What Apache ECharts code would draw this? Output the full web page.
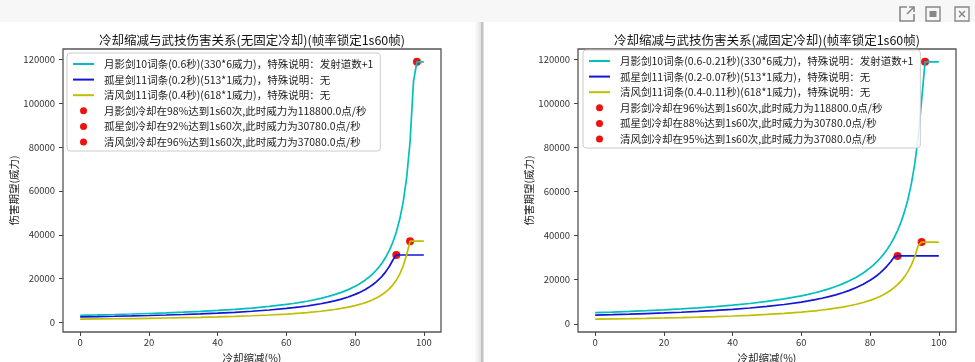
<!DOCTYPE html>
<html>
<head>
<meta charset="utf-8">
<script src="https://cdn.jsdelivr.net/npm/echarts@6/dist/echarts.min.js"></script>
<style>
html,body{margin:0;padding:0;background:#fff;}
#c{width:975px;height:362px;}
</style>
</head>
<body>
<div id="c"></div>
<script>
// ---- data ----
const xPct = [0,5,10,15,20,25,30,35,40,45,50,55,60,62,64,66,68,70,72,74,76,78,80,81,82,83,84,85,86,87,88,89,90,91,92,93,94,95,96,97,98,99,100];

const moonLeft = [3300,3474,3667,3882,4125,4400,4714,5077,5500,6000,6600,7333,8250,8684,9167,9706,10313,11000,11786,12692,13750,15000,16500,17368,18333,19412,20625,22000,23571,25385,27500,30000,33000,36667,41250,47143,55000,66000,82500,110000,118800,118800,118800];
const loneLeft = [2565,2700,2850,3018,3206,3420,3664,3946,4275,4664,5130,5700,6413,6750,7125,7544,8016,8550,9161,9865,10688,11659,12825,13500,14250,15088,16031,17100,18321,19731,21375,23318,25650,28500,30780,30780,30780,30780,30780,30780,30780,30780,30780];
const windLeft = [1545,1626,1717,1818,1931,2060,2207,2377,2575,2809,3090,3433,3863,4066,4292,4544,4828,5150,5518,5942,6438,7023,7725,8132,8583,9088,9656,10300,11036,11885,12875,14045,15450,17167,19313,22071,25750,30900,37080,37080,37080,37080,37080];

const moonRight = [5077,5344,5641,5973,6346,6769,7253,7811,8462,9231,10154,11282,12692,13360,14103,14932,15865,16923,18132,19527,21154,23077,25385,26721,28205,29864,31731,33846,36264,39053,42308,46154,50769,56410,63462,72527,84615,101538,118800,118800,118800,118800,118800];
const loneRight = [3946,4154,4385,4643,4933,5262,5637,6071,6577,7175,7892,8769,9865,10385,10962,11606,12332,13154,14093,15178,16442,17937,19731,20769,21923,23213,24663,26308,28187,30355,30780,30780,30780,30780,30780,30780,30780,30780,30780,30780,30780,30780,30780];
const windRight = [2131,2243,2368,2507,2664,2841,3044,3278,3552,3875,4262,4736,5328,5608,5920,6268,6660,7103,7611,8196,8879,9686,10655,11216,11839,12536,13319,14207,15222,16393,17759,19373,21310,23678,26638,30443,35517,37080,37080,37080,37080,37080,37080];

const capXLeft = [98, 92, 96];
const capXRight = [96, 88, 95];
const capY = [118800, 30780, 37080];

const lineNamesLeft = [
  '月影剑10词条(0.6秒)(330*6威力)，特殊说明：发射道数+1',
  '孤星剑11词条(0.2秒)(513*1威力)，特殊说明：无',
  '清风剑11词条(0.4秒)(618*1威力)，特殊说明：无'
];
const dotNamesLeft = [
  '月影剑冷却在98%达到1s60次,此时威力为118800.0点/秒',
  '孤星剑冷却在92%达到1s60次,此时威力为30780.0点/秒',
  '清风剑冷却在96%达到1s60次,此时威力为37080.0点/秒'
];
const lineNamesRight = [
  '月影剑10词条(0.6-0.21秒)(330*6威力)，特殊说明：发射道数+1',
  '孤星剑11词条(0.2-0.07秒)(513*1威力)，特殊说明：无',
  '清风剑11词条(0.4-0.11秒)(618*1威力)，特殊说明：无'
];
const dotNamesRight = [
  '月影剑冷却在96%达到1s60次,此时威力为118800.0点/秒',
  '孤星剑冷却在88%达到1s60次,此时威力为30780.0点/秒',
  '清风剑冷却在95%达到1s60次,此时威力为37080.0点/秒'
];
const titles = ['冷却缩减与武技伤害关系(无固定冷却)(帧率锁定1s60帧)', '冷却缩减与武技伤害关系(减固定冷却)(帧率锁定1s60帧)'];
const xTicks = [0, 20, 40, 60, 80, 100];
const yTicks = [0, 20000, 40000, 60000, 80000, 100000, 120000];
const xAxisName = '冷却缩减(%)';
const yAxisName = '伤害期望(威力)';

// ---- styling ----
const lineColors = ['#00bfbf', '#1515d8', '#bfbf00'];
const FONT = '"Noto Sans CJK SC", "Noto Sans", sans-serif';
const grids = [
  {left: 63, top: 49, width: 378, height: 283},
  {left: 578, top: 49, width: 378, height: 283}
];
const yExt = [[-4318, 124663], [-3702, 124633]];

const pairs = (xs, ys) => xs.map((x, i) => [x, ys[i]]);

const series = [];
const sets = [
  {lines: [moonLeft, loneLeft, windLeft], names: lineNamesLeft, dots: dotNamesLeft, capX: capXLeft},
  {lines: [moonRight, loneRight, windRight], names: lineNamesRight, dots: dotNamesRight, capX: capXRight}
];
sets.forEach((s, gi) => {
  s.lines.forEach((ys, k) => {
    series.push({
      type: 'line', name: s.names[k], xAxisIndex: gi, yAxisIndex: gi,
      data: pairs(xPct, ys), showSymbol: false, symbol: 'none', smooth: false,
      lineStyle: {color: lineColors[k], width: 1.7}, itemStyle: {color: lineColors[k]},
      z: 3, animation: false
    });
  });
  s.dots.forEach((nm, k) => {
    series.push({
      type: 'scatter', name: nm, xAxisIndex: gi, yAxisIndex: gi,
      data: [[s.capX[k], capY[k]]], symbol: 'circle', symbolSize: 8,
      itemStyle: {color: '#ee1111', opacity: 1}, z: 2, animation: false
    });
  });
});

const tickStyle = {show: true, inside: false, length: 4, lineStyle: {color: '#444', width: 1}};

const option = {
  animation: false,
  backgroundColor: '#ffffff',
  grid: grids.map(g => Object.assign({show: true, borderColor: '#555', borderWidth: 1.3, backgroundColor: 'transparent', containLabel: false, outerBoundsMode: 'none'}, g)),
  xAxis: grids.map((g, i) => ({
    type: 'value', gridIndex: i, min: -5, max: 105,
    axisLine: {show: false, onZero: false},
    splitLine: {show: false},
    axisTick: Object.assign({}, tickStyle, {customValues: xTicks}),
    axisLabel: {customValues: xTicks, margin: 6, fontSize: 9.5, color: '#333', fontFamily: FONT, formatter: v => String(v)},
    name: xAxisName, nameLocation: 'middle', nameGap: 19,
    nameTextStyle: {fontSize: 10.5, color: '#222', fontFamily: FONT}
  })),
  yAxis: grids.map((g, i) => ({
    type: 'value', gridIndex: i, min: yExt[i][0], max: yExt[i][1],
    axisLine: {show: false, onZero: false},
    splitLine: {show: false},
    axisTick: Object.assign({}, tickStyle, {customValues: yTicks}),
    axisLabel: {customValues: yTicks, margin: 8, fontSize: 9.5, color: '#333', fontFamily: FONT, formatter: v => String(v)},
    name: yAxisName, nameLocation: 'middle', nameGap: 44,
    nameTextStyle: {fontSize: 10.5, color: '#222', fontFamily: FONT}
  })),
  legend: sets.map((s, gi) => ({
    orient: 'vertical', left: gi === 0 ? 67 : 583, top: gi === 0 ? 53 : 50,
    itemWidth: 21, itemHeight: 7, itemGap: 3.6,
    padding: [5, 7, 3, 5],
    borderColor: '#cccccc', borderWidth: 1, borderRadius: 3,
    backgroundColor: 'rgba(255,255,255,0.85)',
    selectedMode: false,
    textStyle: {fontSize: 10.5, lineHeight: 12, color: '#222', fontFamily: FONT, padding: [0, 0, 0, 5]},
    data: s.names.map(n => ({name: n, itemStyle: {color: 'rgba(0,0,0,0)', opacity: 0, borderWidth: 0}}))
      .concat(s.dots.map(n => ({name: n, icon: 'circle'})))
  })),
  graphic: [
    {type: 'rect', shape: {x: 0, y: 0, width: 975, height: 22}, style: {fill: '#f7f7f7'}, silent: true, z: -10},
    {type: 'rect', shape: {x: 474, y: 22, width: 7, height: 340},
      style: {fill: new echarts.graphic.LinearGradient(0, 0, 1, 0, [{offset: 0, color: 'rgba(230,230,230,0)'}, {offset: 1, color: 'rgba(225,225,225,1)'}])}, silent: true, z: -10},
    {type: 'rect', shape: {x: 481, y: 22, width: 2.5, height: 340}, style: {fill: '#c2c2c2'}, silent: true, z: -9},
    {type: 'text', x: 252, y: 40, style: {text: titles[0], align: 'center', verticalAlign: 'middle', font: '12.5px ' + FONT, fill: '#111'}, z: 10},
    {type: 'text', x: 767, y: 40, style: {text: titles[1], align: 'center', verticalAlign: 'middle', font: '12.5px ' + FONT, fill: '#111'}, z: 10},
    {type: 'group', x: 900, y: 7, children: [
      {type: 'polyline', shape: {points: [[7, 0], [0, 0], [0, 14], [14, 14], [14, 7]]}, style: {stroke: '#888', lineWidth: 1.6, fill: null}},
      {type: 'line', shape: {x1: 7, y1: 7, x2: 14, y2: 0}, style: {stroke: '#888', lineWidth: 1.6}},
      {type: 'polyline', shape: {points: [[9, 0], [14, 0], [14, 5]]}, style: {stroke: '#888', lineWidth: 1.6, fill: null}}
    ]},
    {type: 'group', x: 926, y: 7, children: [
      {type: 'rect', shape: {x: 0, y: 0, width: 14, height: 14}, style: {stroke: '#888', lineWidth: 1.4, fill: null}},
      {type: 'rect', shape: {x: 3.5, y: 4, width: 7, height: 6}, style: {fill: '#888'}}
    ]},
    {type: 'group', x: 955, y: 7, children: [
      {type: 'rect', shape: {x: 0, y: 0, width: 14, height: 14}, style: {stroke: '#888', lineWidth: 1.4, fill: null}},
      {type: 'line', shape: {x1: 4, y1: 4, x2: 10, y2: 10}, style: {stroke: '#888', lineWidth: 1.5}},
      {type: 'line', shape: {x1: 10, y1: 4, x2: 4, y2: 10}, style: {stroke: '#888', lineWidth: 1.5}}
    ]}
  ],
  series: series
};

const chart = echarts.init(document.getElementById('c'), null, {renderer: 'canvas'});
chart.setOption(option);
</script>
</body>
</html>
